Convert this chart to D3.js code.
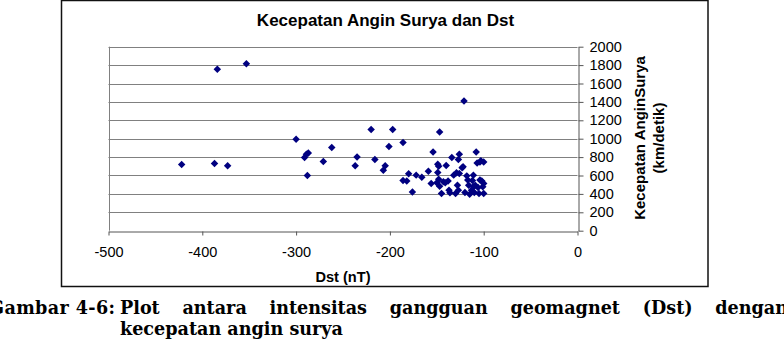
<!DOCTYPE html>
<html>
<head>
<meta charset="utf-8">
<script src="https://cdn.jsdelivr.net/npm/d3@7"></script>
<style>
  body { margin: 0; background: #fff; }
  svg { display: block; }
  .tick text { font-family: "Liberation Sans", Arial, sans-serif; font-size: 14.5px; fill: #000; }
</style>
</head>
<body>
<div id="chart"></div>
<script>
// ---- data ----
const title = "Kecepatan Angin Surya dan Dst";
const xTitle = "Dst (nT)";
const yTitle = ["Kecepatan AnginSurya", "(km/detik)"];
const xTicks = [-500, -400, -300, -200, -100, 0];
const yTicks = [0, 200, 400, 600, 800, 1000, 1200, 1400, 1600, 1800, 2000];

const dst = [
  -422, -387, -373, -384, -353, -300, -291, -289, -287, -288,
  -271, -262, -237, -235, -220, -216, -207, -205, -201, -197,
  -186, -186, -182, -180, -176, -172, -166, -159, -156, -154,
  -149, -149, -148, -147, -147, -145, -140, -141, -138, -137,
  -134, -132, -130, -128, -127, -127, -126, -126, -123, -121,
  -120, -118, -116, -115, -113, -112, -111, -109, -108, -107,
  -106, -105, -104, -102, -101, -100, -100, -100, -104, -129,
  -122, -143, -136, -110, -103, -111, -117, -148, -150
];
const speed = [
  720, 730, 705, 1755, 1815, 995, 795, 830, 845, 600,
  752, 905, 705, 800, 1100, 775, 658, 705, 915, 1100,
  958, 546, 539, 618, 420, 604, 582, 647, 514, 856,
  723, 633, 560, 1073, 484, 405, 709, 520, 539, 441,
  795, 604, 405, 495, 441, 774, 831, 622, 683, 1410,
  416, 596, 495, 395, 441, 546, 604, 495, 856, 737,
  470, 405, 748, 539, 477, 748, 405, 514, 550, 629,
  694, 531, 412, 415, 760, 477, 550, 700, 520
];

const captionLabel = "Gambar 4-6:";
const captionLine1 = ["Plot", "antara", "intensitas", "gangguan", "geomagnet", "(Dst)", "dengan"];
const captionLine2 = "kecepatan angin surya";

// ---- setup ----
const width = 784, height = 350;
const svg = d3.select("#chart").append("svg")
    .attr("width", width)
    .attr("height", height);

svg.append("rect").attr("width", width).attr("height", height).attr("fill", "#fff");

// chart frame
svg.append("rect")
    .attr("x", 61.5).attr("y", 0.5)
    .attr("width", 646.5).attr("height", 286)
    .attr("fill", "none")
    .attr("stroke", "#111")
    .attr("stroke-width", 1.5);

const x = d3.scaleLinear().domain([-500, 0]).range([108.5, 577.5]);
const y = d3.scaleLinear().domain([0, 2000]).range([230.7, 46.7]);

// gridlines
svg.append("g")
  .selectAll("line")
  .data(yTicks.filter(d => d > 0))
  .join("line")
    .attr("x1", x(-500)).attr("x2", x(0))
    .attr("y1", d => Math.round(y(d)) + 0.5)
    .attr("y2", d => Math.round(y(d)) + 0.5)
    .attr("stroke", "#808080")
    .attr("stroke-width", 1);

// plot area left border
svg.append("line")
    .attr("x1", Math.round(x(-500)) + 0.5).attr("x2", Math.round(x(-500)) + 0.5)
    .attr("y1", y(2000)).attr("y2", y(0))
    .attr("stroke", "#808080");

// axes (plain hyphen for negatives, as in the original)
const fmt = d => String(d);
const xAxis = svg.append("g")
    .attr("transform", `translate(0,${Math.round(y(0)) + 0.5})`)
    .call(d3.axisBottom(x).tickValues(xTicks).tickSize(4).tickSizeOuter(0).tickPadding(11)
      .tickFormat(fmt));
xAxis.selectAll("path, line").attr("stroke", "#555");

const yAxis = svg.append("g")
    .attr("transform", `translate(${Math.round(x(0)) + 0.5},0)`)
    .call(d3.axisRight(y).tickValues(yTicks).tickSize(5).tickSizeOuter(0).tickPadding(6)
      .tickFormat(fmt));
yAxis.selectAll("path, line").attr("stroke", "#555");

// points
const points = dst.map((d, i) => ({dst: d, v: speed[i]}));
const diamond = d3.symbol().type(d3.symbolSquare).size(28);
svg.append("g")
  .selectAll("path")
  .data(points)
  .join("path")
    .attr("d", diamond)
    .attr("transform", d => `translate(${x(d.dst)},${y(d.v)}) rotate(45)`)
    .attr("fill", "#000080");

// titles
svg.append("text")
    .attr("x", 385.5).attr("y", 26)
    .attr("text-anchor", "middle")
    .style("font-family", "Liberation Sans, Arial, sans-serif")
    .style("font-weight", "bold")
    .style("font-size", "17px")
    .text(title);

svg.append("text")
    .attr("x", 343).attr("y", 282)
    .attr("text-anchor", "middle")
    .style("font-family", "Liberation Sans, Arial, sans-serif")
    .style("font-weight", "bold")
    .style("font-size", "14.6px")
    .text(xTitle);

svg.selectAll(".ytitle")
  .data(yTitle)
  .join("text")
    .attr("class", "ytitle")
    .attr("transform", (d, i) => `translate(${639 + i * 19},138) rotate(-90)`)
    .attr("text-anchor", "middle")
    .attr("dominant-baseline", "central")
    .style("font-family", "Liberation Sans, Arial, sans-serif")
    .style("font-weight", "bold")
    .style("font-size", "15px")
    .text(d => d);

// ---- caption (justified, runs past the page edges like the scan) ----
const capFont = "DejaVu Serif, serif";
const capStart = 120, capEnd = 788;
const line2 = svg.append("text")
    .attr("x", capStart).attr("y", 335)
    .style("font-family", capFont)
    .style("font-weight", "bold")
    .style("font-size", "16px")
    .text(captionLine2);
const fs = 16 * 223 / line2.node().getComputedTextLength();
line2.style("font-size", fs + "px");

svg.append("text")
    .attr("x", -11).attr("y", 314)
    .attr("textLength", 126)
    .attr("lengthAdjust", "spacing")
    .style("font-family", capFont)
    .style("font-weight", "bold")
    .style("font-size", fs + "px")
    .text(captionLabel);

const words = svg.append("g").selectAll("text")
  .data(captionLine1)
  .join("text")
    .attr("y", 314)
    .style("font-family", capFont)
    .style("font-weight", "bold")
    .style("font-size", fs + "px")
    .text(d => d);
const widths = words.nodes().map(n => n.getComputedTextLength());
const gap = (capEnd - capStart - d3.sum(widths)) / (captionLine1.length - 1);
let cx = capStart;
words.attr("x", (d, i) => { const p = cx; cx += widths[i] + gap; return p; });
</script>
</body>
</html>
